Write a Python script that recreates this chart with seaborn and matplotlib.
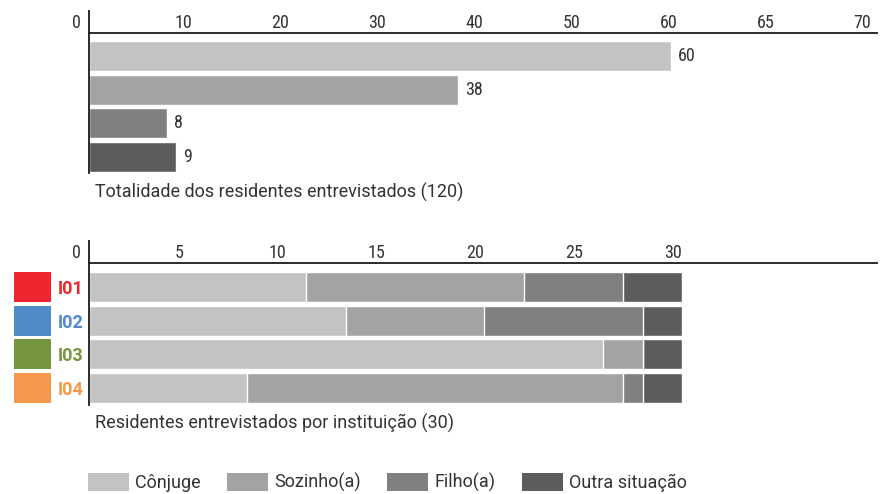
import numpy as np
import pandas as pd
import matplotlib
matplotlib.use("Agg")
import matplotlib.pyplot as plt
import seaborn as sns
from matplotlib import font_manager, transforms
from matplotlib.patches import Patch, Rectangle

# Living situation of interviewed residents
categories = ["Cônjuge", "Sozinho(a)", "Filho(a)", "Outra situação"]
total_counts = [60, 38, 8, 9]
top_tick_labels = ["0", "10", "20", "30", "40", "50", "60", "65", "70"]

institutions = ["I01", "I02", "I03", "I04"]
conjuge = [11, 13, 26, 8]
sozinho = [11, 7, 2, 19]
filho = [5, 8, 0, 1]
outra = [3, 2, 2, 2]
bottom_tick_labels = ["0", "5", "10", "15", "20", "25", "30"]

grey_palette = ["#c4c3c3", "#a3a3a3", "#7f807f", "#5c5c5c"]
institution_colors = ["#ed2630", "#518ac9", "#76953f", "#f6984b"]

sns.set_theme(style="white")
available = {f.name for f in font_manager.fontManager.ttflist}


def pick(*names):
    for n in names:
        if n in available:
            return n
    return "DejaVu Sans"


TEXT_FONT = pick("Roboto", "DejaVu Sans")
NUM_FONT = pick("Roboto Condensed", "Liberation Sans Narrow", "Roboto")
plt.rcParams["font.family"] = [TEXT_FONT, "DejaVu Sans"]

TEXT = "#333333"
LINE = "#1a1a1a"
FS = 13

W, H = 885, 494
fig = plt.figure(figsize=(W / 100, H / 100), dpi=100)


def rect(x0, y0, x1, y1):
    return [x0 / W, 1 - y1 / H, (x1 - x0) / W, (y1 - y0) / H]


def style_axis(ax, extra):
    for side in ("right", "bottom"):
        ax.spines[side].set_visible(False)
    for side in ("top", "left"):
        ax.spines[side].set_color(LINE)
        ax.spines[side].set_linewidth(1.3)
    ax.plot([0, 0], [1, 1 + extra], transform=ax.transAxes, color=LINE,
            lw=1.3, clip_on=False, solid_capstyle="butt")
    ax.set_xlabel("")
    ax.set_ylabel("")


def style_ticklabels(ax, first_dx, other_dx):
    for i, lab in enumerate(ax.get_xticklabels()):
        lab.set_fontfamily([NUM_FONT, "DejaVu Sans"])
        dx = first_dx if i == 0 else other_dx
        if i == 0:
            lab.set_horizontalalignment("right")
        off = transforms.ScaledTranslation(dx / 100, 0, fig.dpi_scale_trans)
        lab.set_transform(lab.get_transform() + off)


# ---- totals ----
ax1 = fig.add_axes(rect(89, 33, 877, 173))
df_total = pd.DataFrame({"situacao": categories, "n": total_counts})
sns.barplot(data=df_total, x="n", y="situacao", hue="situacao",
            palette=grey_palette, orient="h", width=0.89, saturation=1,
            legend=False, ax=ax1)
for c in ax1.containers:
    ax1.bar_label(c, padding=5, fontsize=FS, color=TEXT,
                  fontfamily=[NUM_FONT, "DejaVu Sans"])
ax1.set_xlim(0, 81.2)
ax1.set_ylim(3.475, -0.683)
ax1.set_xticks(np.arange(len(top_tick_labels)) * 10, top_tick_labels)
ax1.xaxis.tick_top()
ax1.tick_params(axis="x", length=0, pad=1, labelsize=FS, labelcolor=TEXT)
ax1.set_yticks([])
style_axis(ax1, 23 / 140)
style_ticklabels(ax1, -8, -3)
fig.text(95 / W, 1 - 198 / H, "Totalidade dos residentes entrevistados (120)",
         fontsize=FS, color=TEXT, va="baseline")

# ---- per institution (stacked) ----
ax2 = fig.add_axes(rect(89, 263, 877, 405))
df_inst = pd.DataFrame({"inst": institutions, categories[0]: conjuge,
                        categories[1]: sozinho, categories[2]: filho,
                        categories[3]: outra})
cum = df_inst[categories].cumsum(axis=1)
cum["inst"] = df_inst["inst"]
for cat, color in reversed(list(zip(categories, grey_palette))):
    sns.barplot(data=cum, x=cat, y="inst", color=color, orient="h",
                width=0.89, saturation=1, ax=ax2)
ax2.set_xlim(0, 39.86)
ax2.set_ylim(3.505, -0.713)
ax2.set_xticks(np.arange(len(bottom_tick_labels)) * 5, bottom_tick_labels)
ax2.xaxis.tick_top()
ax2.tick_params(axis="x", length=0, pad=1, labelsize=FS, labelcolor=TEXT)
ax2.tick_params(axis="y", length=0, pad=4, labelsize=FS)
for lab, col in zip(ax2.get_yticklabels(), institution_colors):
    lab.set_color(col)
    lab.set_fontweight("bold")
style_axis(ax2, 23 / 142)
style_ticklabels(ax2, -8, -9)

blend = transforms.blended_transform_factory(ax2.transAxes, ax2.transData)
for i, col in enumerate(institution_colors):
    ax2.add_patch(Rectangle(((14 - 89) / 788, i - 0.445), 37 / 788, 0.89,
                            transform=blend, facecolor=col, edgecolor="none",
                            clip_on=False))
fig.text(95 / W, 1 - 429 / H, "Residentes entrevistados por instituição (30)",
         fontsize=FS, color=TEXT, va="baseline")

# ---- legend ----
handles = [Patch(facecolor=c, edgecolor="none", label=l)
           for l, c in zip(categories, grey_palette)]
fig.legend(handles=handles, loc="center left",
           bbox_to_anchor=(88 / W, 1 - 482.5 / H), ncol=4, frameon=False,
           fontsize=FS, labelcolor=TEXT, borderpad=0, borderaxespad=0,
           handlelength=2.27, handleheight=1.16, handletextpad=0.35,
           columnspacing=1.45)

fig.savefig("out.png", dpi=100)
